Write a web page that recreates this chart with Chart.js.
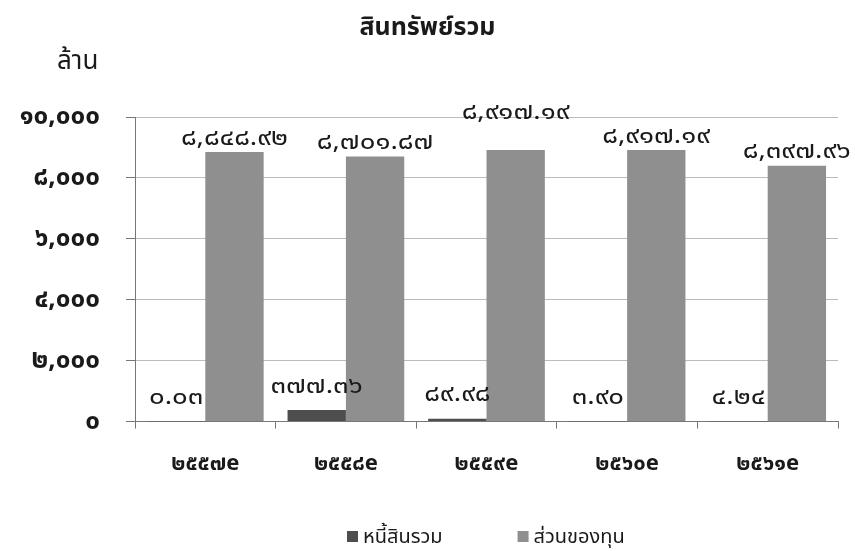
<!DOCTYPE html>
<html>
<head>
<meta charset="utf-8">
<script src="https://cdn.jsdelivr.net/npm/chart.js@4.4.0/dist/chart.umd.min.js"></script>
<style>
  html, body { margin: 0; padding: 0; background: #fff; }
  #wrap { width: 855px; height: 551px; }
</style>
</head>
<body>
<div id="wrap"><canvas id="assetChart" width="855" height="551"></canvas></div>
<script>
// data
const years = ["2557e", "2558e", "2559e", "2560e", "2561e"];
const liabilities = [0.03, 377.36, 89.98, 3.90, 4.24];
const equity = [8848.92, 8701.87, 8917.19, 8917.19, 8397.96];
const yTicks = [0, 2000, 4000, 6000, 8000, 10000];

const FONT = "'Noto Sans', 'Noto Sans Thai', sans-serif";

// arabic -> thai digits
function thaiDigits(s) {
    return String(s).replace(/[0-9]/g, d => "๐๑๒๓๔๕๖๗๘๙"[d]);
}
function fmt(v) {
    return thaiDigits(v.toLocaleString("en-US", { minimumFractionDigits: 2, maximumFractionDigits: 2 }));
}

// extra lift for a label that sits higher in the original
const equityLabelLift = [0, 0, 24, 0, 0];

// value labels, unit text and a hand placed legend
const extras = {
    id: "extras",
    afterDatasetsDraw(chart) {
        const ctx = chart.ctx;
        ctx.save();
        ctx.fillStyle = "#1a1a1a";
        ctx.textBaseline = "middle";
        ctx.textAlign = "center";
        ctx.font = "23px " + FONT;
        chart.data.datasets.forEach((ds, di) => {
            const meta = chart.getDatasetMeta(di);
            meta.data.forEach((bar, i) => {
                const y = di === 0 ? bar.y - 24 : bar.y - 14 - equityLabelLift[i];
                ctx.save();
                ctx.translate(bar.x, y);
                ctx.scale(1.2, 1);   // the original digits are wider
                ctx.fillText(fmt(ds.data[i]), 0, 0);
                ctx.restore();
            });
        });

        ctx.textAlign = "left";
        ctx.font = "26px " + FONT;
        ctx.fillText("ล้าน", 57, 62);

        // legend
        ctx.font = "20px " + FONT;
        let x = 347;
        const y = 537;
        chart.data.datasets.forEach(ds => {
            ctx.fillStyle = ds.backgroundColor;
            ctx.fillRect(x, y - 6, 11, 11);
            ctx.fillStyle = "#1a1a1a";
            ctx.fillText(ds.label, x + 16, y);
            x += 16 + ctx.measureText(ds.label).width + 75;
        });
        ctx.restore();
    }
};

new Chart(document.getElementById("assetChart").getContext("2d"), {
    type: "bar",
    data: {
        labels: years.map(thaiDigits),
        datasets: [{
            label: "หนี้สินรวม",
            data: liabilities,
            backgroundColor: "#4e4e4e"
        }, {
            label: "ส่วนของทุน",
            data: equity,
            backgroundColor: "#8f8f8f"
        }]
    },
    options: {
        responsive: false,
        animation: false,
        layout: { padding: { left: 17, right: 17, top: 6, bottom: 0 } },
        datasets: {
            bar: { categoryPercentage: 0.83, barPercentage: 1.0 }
        },
        plugins: {
            title: {
                display: true,
                text: "สินทรัพย์รวม",
                color: "#1a1a1a",
                font: { family: FONT, size: 25, weight: "bold" },
                padding: { top: 7, bottom: 74 }
            },
            legend: { display: false },
            tooltip: { enabled: false }
        },
        scales: {
            x: {
                grid: { drawOnChartArea: false, drawTicks: true, tickLength: 7, color: "#777" },
                border: { color: "#777" },
                ticks: { color: "#1a1a1a", font: { family: FONT, size: 22, weight: "bold" }, padding: 22 },
                afterFit: scale => { scale.height += 52; }
            },
            y: {
                min: 0,
                max: 10000,
                afterBuildTicks: axis => { axis.ticks = yTicks.map(v => ({ value: v })); },
                afterFit: scale => { scale.width = 118; },
                grid: { color: "#bbb", tickLength: 9, tickColor: "#777" },
                border: { color: "#777" },
                ticks: {
                    color: "#1a1a1a",
                    font: { family: FONT, size: 26, weight: "bold" },
                    padding: 26,
                    callback: v => thaiDigits(v.toLocaleString("en-US"))
                }
            }
        }
    },
    plugins: [extras]
});
</script>
</body>
</html>
